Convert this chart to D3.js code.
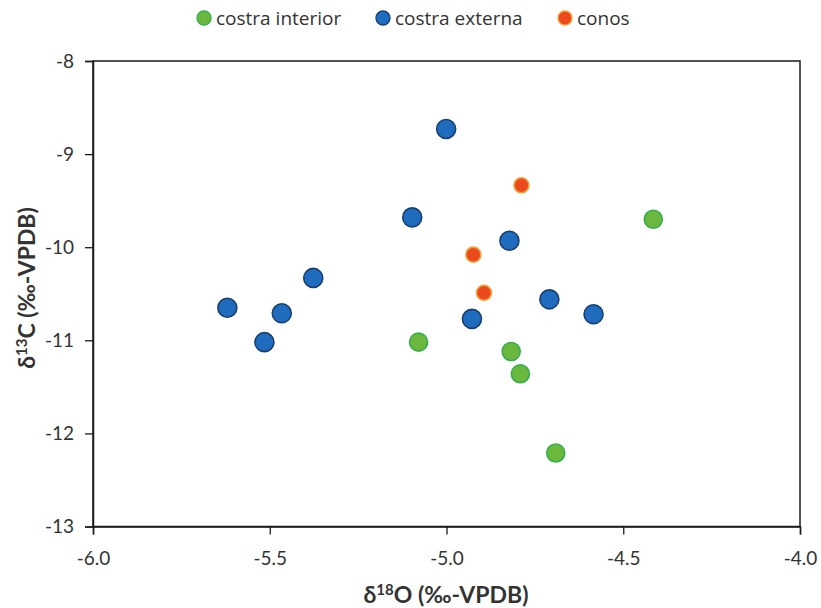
<!DOCTYPE html>
<html>
<head>
<meta charset="utf-8">
<script src="https://cdn.jsdelivr.net/npm/d3@7"></script>
<style>
  html, body { margin: 0; padding: 0; background: #ffffff; }
  svg { display: block; }
</style>
</head>
<body>
<svg id="chart" width="821" height="608"></svg>
<script>
// Series: δ18O (x) and δ13C (y), ‰ VPDB
const seriesNames = ["costra interior", "costra externa", "conos"];

const costraInteriorX = [-4.415, -5.079, -4.817, -4.791, -4.691];
const costraInteriorY = [-9.70, -11.02, -11.12, -11.36, -12.21];

const costraExternaX = [-5.001, -5.097, -4.822, -5.377, -5.620, -5.466, -5.515, -4.928, -4.709, -4.584];
const costraExternaY = [-8.73, -9.68, -9.93, -10.33, -10.65, -10.71, -11.02, -10.77, -10.56, -10.72];

const conosX = [-4.788, -4.924, -4.894];
const conosY = [-9.335, -10.08, -10.49];

const xTicks = [-6.0, -5.5, -5.0, -4.5, -4.0];
const yTicks = [-8, -9, -10, -11, -12, -13];

const styles = {
  "costra interior": { fill: "#6cb83f", stroke: "#33b04a", r: 9 },
  "costra externa":  { fill: "#1f6cbf", stroke: "#183f72", r: 9.5 },
  "conos":           { fill: "#ec4a1c", stroke: "#f3a23a", r: 7.5 }
};

const series = [
  { name: seriesNames[0], xs: costraInteriorX, ys: costraInteriorY },
  { name: seriesNames[1], xs: costraExternaX, ys: costraExternaY },
  { name: seriesNames[2], xs: conosX, ys: conosY }
];

const svg = d3.select("#chart");
const plotLeft = 93, plotRight = 800, plotTop = 61, plotBottom = 526.5;

const x = d3.scaleLinear().domain([-6, -4]).range([plotLeft, plotRight]);
const y = d3.scaleLinear().domain([-13, -8]).range([plotBottom, plotTop]);

const axisFont = "Lato, 'Open Sans', sans-serif";
const textColor = "#333333";

// Frame
svg.append("rect")
  .attr("x", plotLeft).attr("y", plotTop)
  .attr("width", plotRight - plotLeft).attr("height", plotBottom - plotTop)
  .attr("fill", "none").attr("stroke", "#1a1a1a").attr("stroke-width", 1.5);

// Axes
const xAxis = svg.append("g")
  .attr("transform", `translate(0,${plotBottom})`)
  .call(d3.axisBottom(x).tickValues(xTicks).tickFormat(d3.format(".1f")).tickSizeOuter(0).tickSize(8).tickPadding(17));
const yAxis = svg.append("g")
  .attr("transform", `translate(${plotLeft},0)`)
  .call(d3.axisLeft(y).tickValues(yTicks).tickFormat(d3.format("d")).tickSizeOuter(0).tickSize(8).tickPadding(11));

[xAxis, yAxis].forEach(g => {
  g.select(".domain").attr("stroke", "#1a1a1a").attr("stroke-width", 1.5);
  g.selectAll(".tick line").attr("stroke", "#1a1a1a").attr("stroke-width", 1.3);
  g.selectAll(".tick text")
    .attr("fill", textColor)
    .style("font-family", axisFont)
    .style("font-size", "19px");
});
// hyphen-minus labels as printed
xAxis.selectAll(".tick text").text(d => d3.format(".1f")(d).replace("−", "-"));
yAxis.selectAll(".tick text").text(d => String(d).replace("−", "-"));

// Axis titles
const xTitle = svg.append("text")
  .attr("x", 446).attr("y", 603)
  .attr("text-anchor", "middle")
  .style("font-family", axisFont).style("font-size", "23px").style("font-weight", "bold")
  .attr("fill", textColor);
xTitle.append("tspan").text("δ");
xTitle.append("tspan").attr("dy", -8).style("font-size", "15px").text("18");
xTitle.append("tspan").attr("dy", 8).text("O (‰-VPDB)");

const yTitle = svg.append("text")
  .attr("transform", `translate(35,288) rotate(-90)`)
  .attr("text-anchor", "middle")
  .style("font-family", axisFont).style("font-size", "23px").style("font-weight", "bold")
  .attr("fill", textColor);
yTitle.append("tspan").text("δ");
yTitle.append("tspan").attr("dy", -8).style("font-size", "15px").text("13");
yTitle.append("tspan").attr("dy", 8).text("C (‰-VPDB)");

// Points
series.forEach(s => {
  const st = styles[s.name];
  svg.append("g").selectAll("circle")
    .data(s.xs.map((v, i) => [v, s.ys[i]]))
    .join("circle")
    .attr("cx", d => x(d[0]))
    .attr("cy", d => y(d[1]))
    .attr("r", st.r)
    .attr("fill", st.fill)
    .attr("stroke", st.stroke)
    .attr("stroke-width", 1.6);
});

// Legend
const legendPos = [204, 383, 565];
const legend = svg.append("g");
series.forEach((s, i) => {
  const st = styles[s.name];
  legend.append("circle")
    .attr("cx", legendPos[i]).attr("cy", 18).attr("r", 7)
    .attr("fill", st.fill).attr("stroke", st.stroke).attr("stroke-width", 1.4);
  legend.append("text")
    .attr("x", legendPos[i] + 12).attr("y", 25)
    .style("font-family", "'Open Sans', sans-serif").style("font-size", "19px")
    .attr("fill", textColor)
    .text(s.name);
});
</script>
</body>
</html>
